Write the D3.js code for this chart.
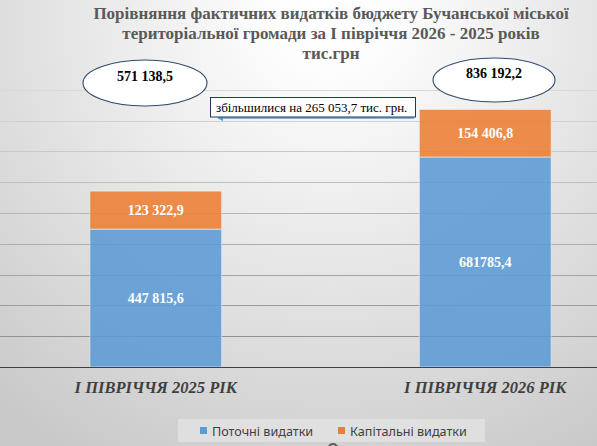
<!DOCTYPE html>
<html>
<head>
<meta charset="utf-8">
<script src="https://cdn.jsdelivr.net/npm/d3@7"></script>
<style>
  html, body { margin: 0; padding: 0; background: #fff; }
  svg { display: block; }
</style>
</head>
<body>
<div class="canvas"></div>
<script>
// data
var categories = ["І ПІВРІЧЧЯ 2025 РІК", "І ПІВРІЧЧЯ 2026 РІК"];
var seriesNames = ["Поточні видатки", "Капітальні видатки"];
var currentSpend = [447815.6, 681785.4];
var capitalSpend = [123322.9, 154406.8];
var currentLabels = ["447 815,6", "681785,4"];
var capitalLabels = ["123 322,9", "154 406,8"];
var totalLabels = ["571 138,5", "836 192,2"];
var titleLines = [
  "Порівняння фактичних видатків бюджету Бучанської міської",
  "територіальної громади за І півріччя 2026 - 2025 років",
  "тис.грн"
];
var diffNote = "збільшилися на 265 053,7 тис. грн.";
var yTicks = [100000, 200000, 300000, 400000, 500000, 600000, 700000, 800000, 900000];

var width = 597, height = 446;
var colors = ["#5b9bd5", "#ed7d31"];
var serif = "'Liberation Serif', 'Times New Roman', serif";
var sans = "'Noto Sans', 'Open Sans', sans-serif";

var svg = d3.select(".canvas").append("svg")
  .attr("width", width)
  .attr("height", height);

var defs = svg.append("defs");
var bg = defs.append("radialGradient")
  .attr("id", "bg")
  .attr("gradientUnits", "userSpaceOnUse")
  .attr("cx", 330).attr("cy", 10).attr("r", 520);
bg.append("stop").attr("offset", "0").attr("stop-color", "#ffffff");
bg.append("stop").attr("offset", "0.12").attr("stop-color", "#fdfdfd");
bg.append("stop").attr("offset", "1").attr("stop-color", "#c8c8c8");

var gridGrad = defs.append("linearGradient")
  .attr("id", "grid")
  .attr("gradientUnits", "userSpaceOnUse")
  .attr("x1", 0).attr("y1", 80).attr("x2", 0).attr("y2", 370);
gridGrad.append("stop").attr("offset", "0").attr("stop-color", "#dcdcdc");
gridGrad.append("stop").attr("offset", "1").attr("stop-color", "#8a8a8a");

defs.append("marker")
  .attr("id", "arrow")
  .attr("viewBox", "0 0 10 10")
  .attr("refX", 2).attr("refY", 5)
  .attr("markerWidth", 5).attr("markerHeight", 5)
  .attr("orient", "auto-start-reverse")
  .append("path")
  .attr("d", "M0,0L10,5L0,10z")
  .attr("fill", "#5b9bd5");

svg.append("rect")
  .attr("width", width).attr("height", height)
  .attr("fill", "url(#bg)");

var x = d3.scaleBand()
  .domain(categories)
  .range([-9, 650])
  .paddingInner(0.6)
  .paddingOuter(0.3);

var y = d3.scaleLinear().domain([0, 900000]).range([367, 89.8]);

// gridlines
svg.append("g")
  .selectAll("line")
  .data(yTicks)
  .enter()
  .append("line")
  .attr("x1", 0).attr("x2", width)
  .attr("y1", function(d){ return Math.round(y(d)) + 0.5; })
  .attr("y2", function(d){ return Math.round(y(d)) + 0.5; })
  .attr("stroke", "url(#grid)")
  .attr("stroke-width", 1);

var table = categories.map(function(c, i){
  return { cat: c, current: currentSpend[i], capital: capitalSpend[i], i: i };
});
var stacked = d3.stack().keys(["current", "capital"])(table);
var labelSets = [currentLabels, capitalLabels];

var layers = svg.selectAll(".layer")
  .data(stacked)
  .enter()
  .append("g")
  .attr("class", "layer")
  .attr("fill", function(d, i){ return colors[i]; });

layers.selectAll("rect")
  .data(function(d){ return d; })
  .enter()
  .append("rect")
  .attr("x", function(d){ return x(d.data.cat); })
  .attr("y", function(d){ return y(d[1]); })
  .attr("width", x.bandwidth())
  .attr("height", function(d){ return y(d[0]) - y(d[1]); })
  .attr("fill-opacity", 0.88)
  .attr("stroke", "#f4f4f4")
  .attr("stroke-opacity", 0.6)
  .attr("stroke-width", 1);

layers.each(function(layer, li){
  d3.select(this).selectAll("text")
    .data(layer)
    .enter()
    .append("text")
    .attr("x", function(d){ return x(d.data.cat) + x.bandwidth() / 2; })
    .attr("y", function(d){ return (y(d[0]) + y(d[1])) / 2 + 5; })
    .attr("text-anchor", "middle")
    .attr("fill", "#ffffff")
    .style("font-family", serif)
    .attr("font-weight", "bold")
    .attr("font-size", 14)
    .text(function(d){ return labelSets[li][d.data.i]; });
});

// baseline axis
svg.append("line")
  .attr("x1", 0).attr("x2", width)
  .attr("y1", y(0) + 0.5).attr("y2", y(0) + 0.5)
  .attr("stroke", "#404040").attr("stroke-width", 1.2);

var xAxis = svg.append("g");
xAxis.selectAll("text")
  .data(categories)
  .enter()
  .append("text")
  .attr("x", function(d){ return x(d) + x.bandwidth() / 2; })
  .attr("y", 393)
  .attr("text-anchor", "middle")
  .attr("fill", "#404040")
  .style("font-family", serif)
  .attr("font-weight", "bold")
  .attr("font-style", "italic")
  .attr("font-size", 16.5)
  .text(function(d){ return d; });

// title
svg.append("g").selectAll("text")
  .data(titleLines)
  .enter()
  .append("text")
  .attr("x", 331)
  .attr("y", function(d, i){ return 19 + i * 20; })
  .attr("text-anchor", "middle")
  .attr("fill", "#595959")
  .style("font-family", serif)
  .attr("font-weight", "bold")
  .attr("font-size", 17)
  .text(function(d){ return d; });

// total ellipses
var ellipses = [
  { cx: 145, cy: 83, rx: 62, ry: 23 },
  { cx: 494, cy: 80, rx: 61, ry: 22 }
];
var eg = svg.append("g").selectAll("g")
  .data(ellipses)
  .enter()
  .append("g");
eg.append("ellipse")
  .attr("cx", function(d){ return d.cx; })
  .attr("cy", function(d){ return d.cy; })
  .attr("rx", function(d){ return d.rx; })
  .attr("ry", function(d){ return d.ry; })
  .attr("fill", "#ffffff")
  .attr("stroke", "#2f4a6e")
  .attr("stroke-width", 1.1);
eg.append("text")
  .attr("x", function(d){ return d.cx; })
  .attr("y", function(d){ return d.cy - 2; })
  .attr("text-anchor", "middle")
  .attr("fill", "#000")
  .style("font-family", serif)
  .attr("font-weight", "bold")
  .attr("font-size", 14)
  .text(function(d, i){ return totalLabels[i]; });

// arrow + note
svg.append("line")
  .attr("x1", 414).attr("y1", 118)
  .attr("x2", 222).attr("y2", 118)
  .attr("stroke", "#5b9bd5")
  .attr("stroke-width", 1.3)
  .attr("marker-end", "url(#arrow)");
svg.append("rect")
  .attr("x", 210.5).attr("y", 97.5)
  .attr("width", 205).attr("height", 19.5)
  .attr("fill", "#ffffff")
  .attr("stroke", "#1f3a5f")
  .attr("stroke-width", 1);
svg.append("text")
  .attr("x", 216).attr("y", 112)
  .attr("fill", "#000")
  .style("font-family", serif)
  .attr("font-size", 13)
  .text(diffNote);

// legend
var legend = svg.append("g");
legend.append("rect")
  .attr("x", 178).attr("y", 419)
  .attr("width", 307).attr("height", 23)
  .attr("fill", "#e2e2e2")
  .attr("fill-opacity", 0.85);
var legX = [200, 338];
var li = legend.selectAll("g")
  .data(seriesNames)
  .enter()
  .append("g");
li.append("rect")
  .attr("x", function(d, i){ return legX[i]; })
  .attr("y", 427)
  .attr("width", 7).attr("height", 7)
  .attr("fill", function(d, i){ return colors[i]; });
li.append("text")
  .attr("x", function(d, i){ return legX[i] + 12; })
  .attr("y", 435.5)
  .attr("fill", "#404040")
  .style("font-family", sans)
  .attr("font-size", 12.6)
  .text(function(d){ return d; });

// clipped axis-title placeholder peeking in at the bottom edge
svg.append("ellipse")
  .attr("cx", 333).attr("cy", 451)
  .attr("rx", 5.5).attr("ry", 7)
  .attr("fill", "none")
  .attr("stroke", "#595959")
  .attr("stroke-width", 1.8);
</script>
</body>
</html>
